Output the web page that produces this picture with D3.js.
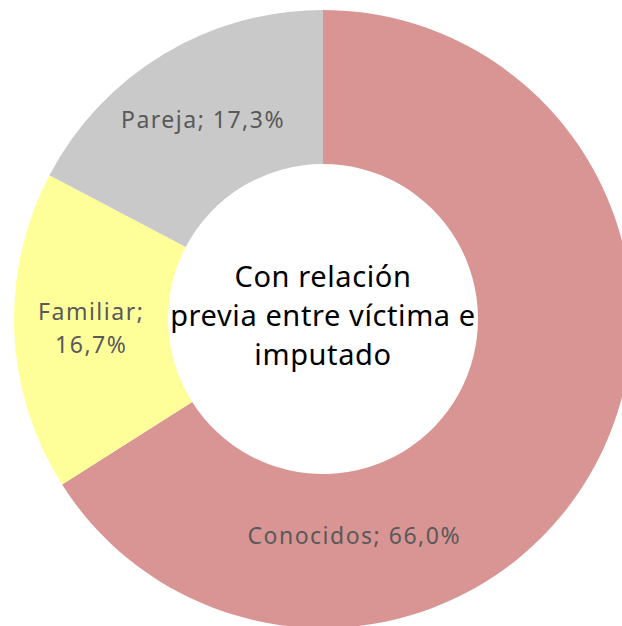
<!DOCTYPE html>
<html>
<head>
<meta charset="utf-8">
<script src="https://cdn.jsdelivr.net/npm/d3@7"></script>
<style>
  body { margin: 0; background: #fff; }
  svg { display: block; }
</style>
</head>
<body>
<svg id="chart"></svg>
<script>
// data
var categories = ["Conocidos", "Familiar", "Pareja"];
var values = [66.0, 16.7, 17.3];
var labelLines = [["Conocidos; 66,0%"], ["Familiar;", "16,7%"], ["Pareja; 17,3%"]];
var colors = ["#d99594", "#ffff99", "#c9c9c9"];
var centerLines = ["Con relación", "previa entre víctima e", "imputado"];

var svgWidth = 622, svgHeight = 626;
var cx = 323, cy = 319;
var outerR = 309, innerR = 155;

var svg = d3.select("#chart")
    .attr("width", svgWidth)
    .attr("height", svgHeight);

var g = svg.append("g")
    .attr("transform", "translate(" + cx + "," + cy + ")");

var data = categories.map(function(c, i) {
  return { name: c, value: values[i], lines: labelLines[i], color: colors[i] };
});

var pie = d3.pie()
    .sort(null)
    .value(function(d) { return d.value; });

var arc = d3.arc()
    .innerRadius(innerR)
    .outerRadius(outerR);

var arcs = pie(data);

g.selectAll("path.slice")
    .data(arcs)
    .enter().append("path")
    .attr("class", "slice")
    .attr("fill", function(d) { return d.data.color; })
    .attr("d", arc);

// label spots: the big slice label sits low, the way the original has it
var labelArc = d3.arc().innerRadius(232).outerRadius(232);
function labelPos(d) {
  if (d.data.name === "Conocidos") {
    var a = 171.8 * Math.PI / 180, r = 219;
    return [r * Math.sin(a), -r * Math.cos(a)];
  }
  return labelArc.centroid(d);
}

var lineH = 33;
var labels = g.selectAll("text.lbl")
    .data(arcs)
    .enter().append("text")
    .attr("class", "lbl")
    .attr("text-anchor", "middle")
    .attr("font-family", "'Noto Sans', sans-serif")
    .attr("font-size", 23)
    .attr("letter-spacing", 1.5)
    .attr("fill", "#595959")
    .attr("transform", function(d) {
      var p = labelPos(d);
      return "translate(" + p[0] + "," + p[1] + ")";
    });

labels.selectAll("tspan")
    .data(function(d) {
      var n = d.data.lines.length;
      return d.data.lines.map(function(t, i) { return { t: t, dy: (i - (n - 1) / 2) * lineH }; });
    })
    .enter().append("tspan")
    .attr("x", 0)
    .attr("y", function(d) { return d.dy; })
    .attr("dy", "0.35em")
    .text(function(d) { return d.t; });

// center title
var center = g.append("text")
    .attr("text-anchor", "middle")
    .attr("font-family", "'Noto Sans', sans-serif")
    .attr("font-size", 29)
    .attr("letter-spacing", 0.6)
    .attr("fill", "#000");

center.selectAll("tspan")
    .data(centerLines)
    .enter().append("tspan")
    .attr("x", 0)
    .attr("y", function(d, i) { return (i - 1) * 39 - 3; })
    .attr("dy", "0.35em")
    .text(function(d) { return d; });
</script>
</body>
</html>
